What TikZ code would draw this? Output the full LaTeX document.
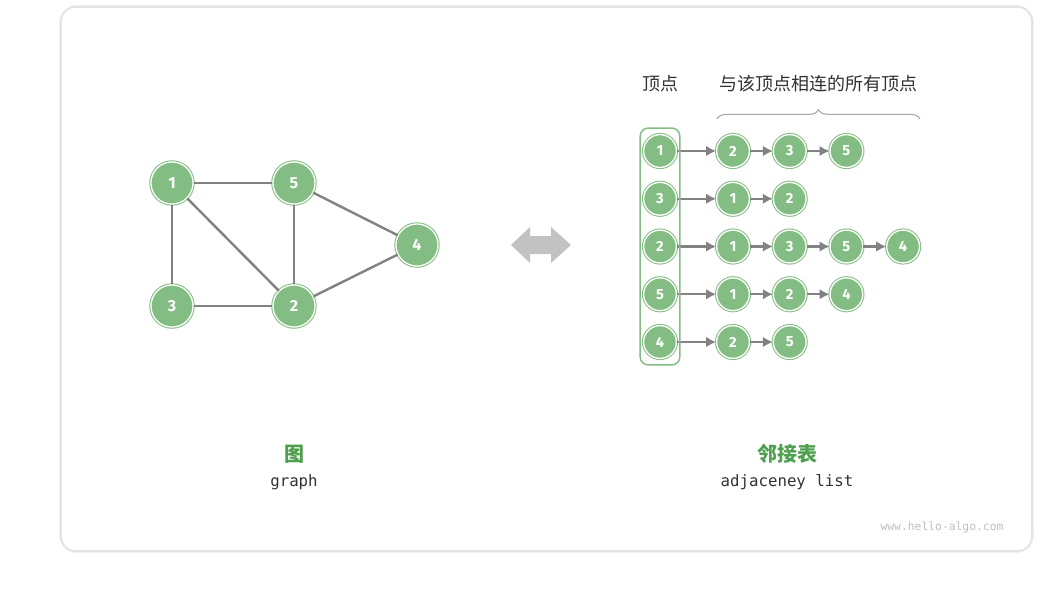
\documentclass[tikz,border=0pt]{standalone}
\usepackage{fontspec}
\setmainfont{Noto Sans CJK SC}
\setmonofont{DejaVu Sans Mono}
\newfontfamily\numfont{Fira Sans}
\usetikzlibrary{positioning,
arrows.meta,
fit,
decorations.pathreplacing}
\definecolor{vgreen}{RGB}{131,189,131}
\definecolor{capgreen}{RGB}{78,160,78}
\definecolor{edgegray}{RGB}{130,130,130}
\definecolor{txtgray}{RGB}{50,50,50}
\tikzstyle{Vertex} = [
circle, fill=vgreen, draw=vgreen,
line width=0.75pt, double=white, double distance=1pt,
inner sep=0pt, minimum size=31.6pt,
text=white, font=\numfont\bfseries\fontsize{12}{14}\selectfont
]
\tikzstyle{ListVertex} = [Vertex, minimum size=24.6pt, font=\numfont\bfseries\fontsize{11}{13}\selectfont]
\tikzstyle{Edge} = [edgegray, line width=1.8pt]
\tikzstyle{Arrow} = [edgegray, line width=1.8pt, -{Latex[length=7.5pt,width=8pt]}]

\begin{document}
\begin{tikzpicture}[x=0.75pt, y=-0.75pt]
            \useasboundingbox (0,0) rectangle (1056,608);
            \draw[black!6, line width=3pt, rounded corners=12pt] (61,7) rectangle (1032,551);
            \draw[black!11, line width=1.2pt, fill=white, rounded corners=11pt] (61,7) rectangle (1032,551);

            % graph
            \node [Vertex] (g1) at (172,183) {1};
            \node [Vertex] (g5) at (294,183) {5};
            \node [Vertex] (g4) at (417,245) {4};
            \node [Vertex] (g3) at (172,306) {3};
            \node [Vertex] (g2) at (294,306) {2};

            \draw[Edge] (g1) -- (g5);
            \draw[Edge] (g1) -- (g3);
            \draw[Edge] (g1) -- (g2);
            \draw[Edge] (g5) -- (g2);
            \draw[Edge] (g5) -- (g4);
            \draw[Edge] (g3) -- (g2);
            \draw[Edge] (g2) -- (g4);

            % double arrow
            \fill[black!24] (511,245) -- (530,227) -- (530,236) -- (551,236) -- (551,227)
                -- (571,245) -- (551,263) -- (551,254) -- (530,254) -- (530,263) -- cycle;

            % adjacency list
            \foreach \v/\nbrs [count=\r] in {1/{2,3,5}, 3/{1,2}, 2/{1,3,5,4}, 5/{1,2,4}, 4/{2,5}} {
                \node [ListVertex] (a\r-0) at (660, {151+47.75*(\r-1)}) {\v};
                \foreach \n [count=\c] in \nbrs {
                    \pgfmathtruncatemacro\prev{\c-1}
                    \node [ListVertex] (a\r-\c) at ({676.3+56.7*\c}, {151+47.75*(\r-1)}) {\n};
                    \draw[Arrow] (a\r-\prev) -- (a\r-\c);
                }
            }
            \node [fit=(a1-0)(a5-0), draw=vgreen, line width=1.1pt, rounded corners=6pt,
                inner xsep=2.2pt, inner ysep=4.5pt] (col) {};

            \node [text=txtgray, font=\fontsize{13.5}{16}\selectfont] (hv) at (660,84) {顶点};
            \node [text=txtgray, font=\fontsize{13.5}{16}\selectfont] (hn) at (818,84) {与该顶点相连的所有顶点};
            \coordinate (bl) at (717,119);
            \coordinate (br) at (920,119);
            \draw[edgegray!70, line width=0.8pt, decorate, decoration={brace, amplitude=7pt}] (bl) -- (br);

            % captions
            \node [text=capgreen, font=\fontsize{15}{18}\selectfont\bfseries] (gc) at (294,454) {图};
            \node [text=txtgray, font=\ttfamily\fontsize{11.8}{14}\selectfont] (gt) at (294,482) {graph};
            \node [text=capgreen, font=\fontsize{15}{18}\selectfont\bfseries] (lc) at (787,454) {邻接表};
            \node [text=txtgray, font=\ttfamily\fontsize{11.8}{14}\selectfont] (lt) at (787,482) {adjaceney list};
            \node [text=black!25, font=\ttfamily\fontsize{8.5}{10}\selectfont] (wm) at (942,527) {www.hello-algo.com};
        \end{tikzpicture}
\end{document}
